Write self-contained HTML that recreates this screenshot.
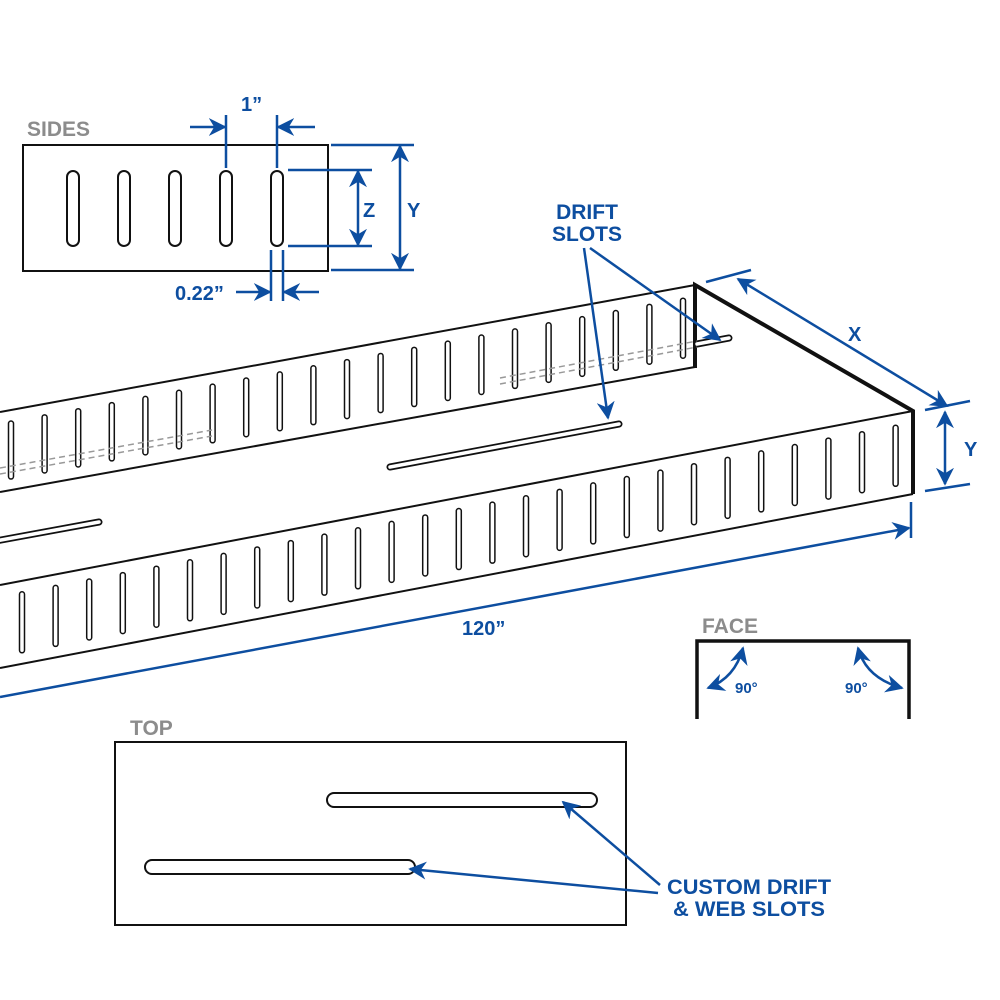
<!DOCTYPE html>
<html><head><meta charset="utf-8"><style>
html,body{margin:0;padding:0;background:#fff;}
svg{display:block;}
text{font-family:"Liberation Sans",Arial,sans-serif;font-weight:bold;}
</style></head><body>
<svg id="s" width="1000" height="1000" viewBox="0 0 1000 1000" xmlns="http://www.w3.org/2000/svg">
<defs>
<marker id="b" viewBox="0 0 10 10" refX="9" refY="5" markerWidth="18" markerHeight="18" orient="auto-start-reverse" markerUnits="userSpaceOnUse">
<path d="M0,0 L10,5 L0,10 L3,5 Z" fill="#0d4ea0"/></marker>
</defs>
<g id="walls"></g>

<g fill="none" stroke="#111" stroke-width="2">
<polyline points="0,412 695,285"/>
<polyline points="0,492 695,367"/>
<polyline points="0,585 913,411"/>
<polyline points="0,668 913,494"/>
</g>
<g stroke="#111" stroke-width="4" fill="none">
<polyline points="695,368 695,285 913,411 913,494"/>
</g>

<g stroke-linecap="round" fill="none">
<line x1="390" y1="467" x2="619" y2="424" stroke="#111" stroke-width="7"/>
<line x1="390" y1="467" x2="619" y2="424" stroke="#fff" stroke-width="3.5"/>
<line x1="-10" y1="542" x2="99" y2="522" stroke="#111" stroke-width="7"/>
<line x1="-10" y1="542" x2="99" y2="522" stroke="#fff" stroke-width="3.5"/>
<line x1="697" y1="344" x2="729" y2="338" stroke="#111" stroke-width="7"/>
<line x1="697" y1="344" x2="729" y2="338" stroke="#fff" stroke-width="3.5"/>
</g>
<g stroke="#999" stroke-width="1.5" stroke-dasharray="6,4" fill="none">
<line x1="0" y1="474" x2="212" y2="436"/>
<line x1="0" y1="468" x2="212" y2="430"/>
<line x1="500" y1="384" x2="697" y2="347"/>
<line x1="500" y1="378" x2="697" y2="341"/>
</g>

<!-- SIDES -->
<text x="27" y="136" font-size="21" fill="#8c8c8c">SIDES</text>
<rect x="23" y="145" width="305" height="126" fill="#fff" stroke="#111" stroke-width="2"/>
<g fill="#fff" stroke="#111" stroke-width="2">
<rect x="67" y="171" width="12" height="75" rx="6"/>
<rect x="118" y="171" width="12" height="75" rx="6"/>
<rect x="169" y="171" width="12" height="75" rx="6"/>
<rect x="220" y="171" width="12" height="75" rx="6"/>
<rect x="271" y="171" width="12" height="75" rx="6"/>
</g>
<g stroke="#0d4ea0" stroke-width="2.5" fill="none">
<line x1="226" y1="115" x2="226" y2="168"/>
<line x1="277" y1="115" x2="277" y2="168"/>
<line x1="190" y1="127" x2="225" y2="127" marker-end="url(#b)"/>
<line x1="315" y1="127" x2="278" y2="127" marker-end="url(#b)"/>
<line x1="271" y1="250" x2="271" y2="301"/>
<line x1="283" y1="250" x2="283" y2="301"/>
<line x1="236" y1="292" x2="270" y2="292" marker-end="url(#b)"/>
<line x1="319" y1="292" x2="284" y2="292" marker-end="url(#b)"/>
<line x1="288" y1="170" x2="372" y2="170"/>
<line x1="288" y1="246" x2="372" y2="246"/>
<line x1="358" y1="171" x2="358" y2="245" marker-start="url(#b)" marker-end="url(#b)"/>
<line x1="331" y1="145" x2="414" y2="145"/>
<line x1="331" y1="270" x2="414" y2="270"/>
<line x1="400" y1="146" x2="400" y2="269" marker-start="url(#b)" marker-end="url(#b)"/>
</g>
<g fill="#0d4ea0" font-size="20">
<text x="241" y="111">1”</text>
<text x="363" y="217">Z</text>
<text x="407" y="217">Y</text>
<text x="175" y="300">0.22”</text>
</g>

<text x="587" y="219" font-size="21" fill="#0d4ea0" text-anchor="middle">DRIFT</text>
<text x="587" y="241" font-size="21" fill="#0d4ea0" text-anchor="middle">SLOTS</text>
<g stroke="#0d4ea0" stroke-width="2.5" fill="none">
<line x1="584" y1="248" x2="608" y2="418" marker-end="url(#b)"/>
<line x1="590" y1="248" x2="720" y2="340" marker-end="url(#b)"/>
<line x1="706" y1="282" x2="751" y2="270"/>
<line x1="925" y1="410" x2="970" y2="401"/>
<line x1="738" y1="279" x2="947" y2="406" marker-start="url(#b)" marker-end="url(#b)"/>
<line x1="925" y1="491" x2="970" y2="484"/>
<line x1="945" y1="412" x2="945" y2="484" marker-start="url(#b)" marker-end="url(#b)"/>
<line x1="911" y1="502" x2="911" y2="538"/>
<line x1="0" y1="697" x2="909" y2="528" marker-end="url(#b)"/>
</g>
<g fill="#0d4ea0" font-size="20">
<text x="848" y="341">X</text>
<text x="964" y="456">Y</text>
<text x="462" y="635">120”</text>
</g>

<!-- FACE -->
<text x="702" y="633" font-size="21" fill="#8c8c8c">FACE</text>
<polyline points="697,719 697,641 909,641 909,719" fill="none" stroke="#111" stroke-width="3.5"/>
<g stroke="#0d4ea0" stroke-width="2.5" fill="none">
<path d="M708,688 Q735,678 743,648" marker-start="url(#b)" marker-end="url(#b)"/>
<path d="M858,648 Q866,678 902,688" marker-start="url(#b)" marker-end="url(#b)"/>
</g>
<g fill="#0d4ea0" font-size="15">
<text x="735" y="693">90°</text>
<text x="845" y="693">90°</text>
</g>

<!-- TOP -->
<text x="130" y="735" font-size="21" fill="#8c8c8c">TOP</text>
<rect x="115" y="742" width="511" height="183" fill="#fff" stroke="#111" stroke-width="2"/>
<g fill="#fff" stroke="#111" stroke-width="2">
<rect x="327" y="793" width="270" height="14" rx="7"/>
<rect x="145" y="860" width="270" height="14" rx="7"/>
</g>
<g stroke="#0d4ea0" stroke-width="2.5" fill="none">
<line x1="660" y1="885" x2="563" y2="802" marker-end="url(#b)"/>
<line x1="658" y1="893" x2="410" y2="869" marker-end="url(#b)"/>
</g>
<g fill="#0d4ea0" font-size="21">
<text x="667" y="894" textLength="164" lengthAdjust="spacingAndGlyphs">CUSTOM DRIFT</text>
<text x="673" y="916" textLength="152" lengthAdjust="spacingAndGlyphs">&amp; WEB SLOTS</text>
</g>
</svg>
<script>
(function(){
var g=document.getElementById('walls'),h='';
function slot(x,t,b){
 h+='<rect x="'+(x-2.5)+'" y="'+t+'" width="5" height="'+(b-t)+'" rx="2.5" fill="#fff" stroke="#111" stroke-width="1.5"/>';
}
for(var x=11;x<=690;x+=33.6){
 var tp=412-0.1827*x, bt=492-0.1798*x;
 slot(x,tp+11,bt-11);
}
for(var x=22;x<=900;x+=33.6){
 var tp=585-0.1906*x, bt=668-0.1906*x;
 slot(x,tp+11,bt-11);
}
g.innerHTML=h;
})();
</script>
</body></html>
